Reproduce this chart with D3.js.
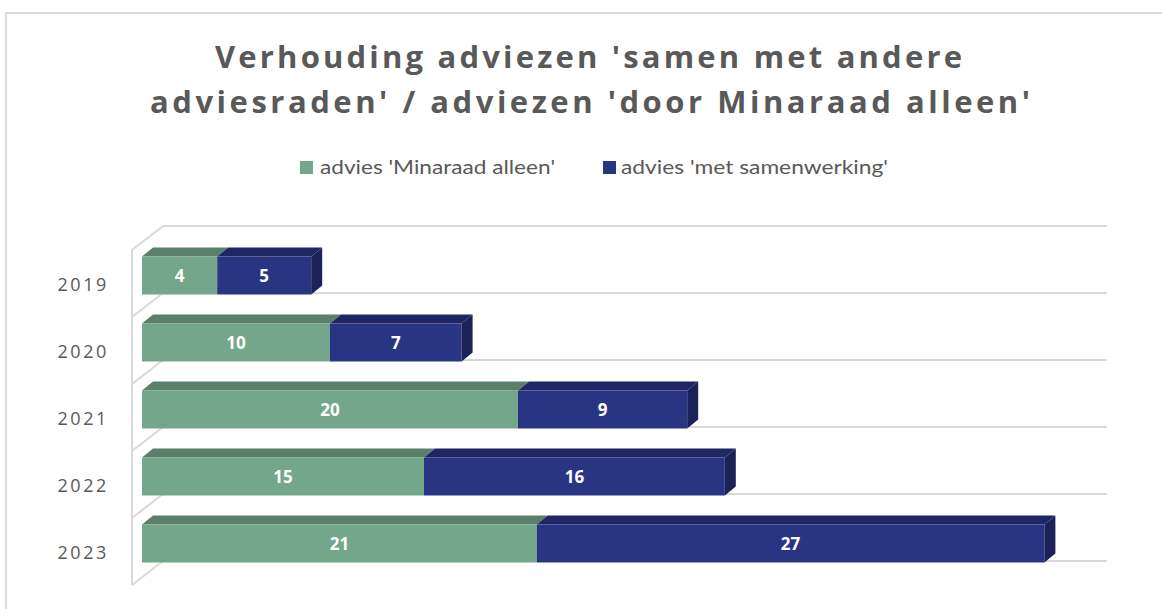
<!DOCTYPE html>
<html><head><meta charset="utf-8">
<script src="https://cdn.jsdelivr.net/npm/d3@7"></script>
<style>body{margin:0;background:#fff}svg{display:block}</style>
</head><body>
<svg id="c" width="1162" height="609"></svg>
<script>
const years = ["2019","2020","2021","2022","2023"];
const aloneValues = [4,10,20,15,21];
const coopValues = [5,7,9,16,27];
const seriesNames = ["advies 'Minaraad alleen'","advies 'met samenwerking'"];
const titleLines = ["Verhouding adviezen 'samen met andere","adviesraden' / adviezen 'door Minaraad alleen'"];
const axisMax = 50.2;

const svg = d3.select("#c");
const grey = "#595959", gridC = "#d9d9d9";
const colors = [
  {front:"#73a68b", top:"#5a806b", side:"#4f7360"},
  {front:"#283583", top:"#1f2663", side:"#1c2258"}
];

// frame
svg.append("path").attr("d","M6,609 L6,13 L1162,13").attr("fill","none").attr("stroke",gridC).attr("stroke-width",2);

// title
const tl = [{x:215,w:747,y:68},{x:150,w:880,y:113}];
titleLines.forEach((t,i)=>{
  svg.append("text").attr("x",tl[i].x).attr("y",tl[i].y).text(t)
    .attr("font-family","Open Sans").attr("font-weight","bold").attr("font-size",31)
    .attr("fill",grey).attr("textLength",tl[i].w).attr("lengthAdjust","spacing");
});

// legend
const lg = [{sx:300,tx:320,tw:235},{sx:603,tx:621,tw:267}];
seriesNames.forEach((n,i)=>{
  svg.append("rect").attr("x",lg[i].sx).attr("y",161).attr("width",13).attr("height",13).attr("fill",colors[i].front);
  svg.append("text").attr("x",lg[i].tx).attr("y",174).text(n)
    .attr("font-family","Lato").attr("font-size",19.5).attr("fill",grey)
    .attr("textLength",lg[i].tw).attr("lengthAdjust","spacingAndGlyphs");
});

// 3D geometry
const depth = {dx:31, dy:-24};
const x = d3.scaleLinear().domain([0,axisMax]).range([132, 132+axisMax*18.8]);
const y = d3.scaleBand().domain(years).range([250,585]);
const step = y.step();
const barH = step*0.567;
const bOff = {dx:10, dy:-8};   // bar front plane offset
const bDep = {dx:11, dy:-9};   // bar depth

// grid: back wall lines and left wall
const gridY = d3.range(years.length+1).map(i=>250+i*step);
const g = svg.append("g").attr("stroke",gridC).attr("stroke-width",2).attr("fill","none");
gridY.forEach(fy=>{
  g.append("line").attr("x1",x(0)+depth.dx).attr("x2",x(axisMax)+depth.dx)
    .attr("y1",fy+depth.dy).attr("y2",fy+depth.dy);
  g.append("line").attr("x1",x(0)).attr("x2",x(0)+depth.dx)
    .attr("y1",fy).attr("y2",fy+depth.dy);
});
g.append("line").attr("x1",x(0)).attr("x2",x(0)).attr("y1",gridY[0]).attr("y2",gridY[gridY.length-1]);

// year labels
years.forEach(yr=>{
  svg.append("text").attr("x",109).attr("y",y(yr)+step/2+7.5).attr("text-anchor","end")
    .text(yr).attr("font-family","Open Sans").attr("font-size",18).attr("fill",grey)
    .attr("letter-spacing","2.6px");
});

// bars
const bars = svg.append("g");
years.forEach((yr,i)=>{
  const vals = [aloneValues[i], coopValues[i]];
  const cy = y(yr)+step/2+bOff.dy;
  const top = cy-barH/2, bot = cy+barH/2;
  let cum = 0;
  vals.forEach((v,s)=>{
    const x0 = x(cum)+bOff.dx, x1 = x(cum+v)+bOff.dx;
    cum += v;
    const c = colors[s];
    bars.append("polygon").attr("points",[[x0,top],[x1,top],[x1+bDep.dx,top+bDep.dy],[x0+bDep.dx,top+bDep.dy]].join(" "))
      .attr("fill",c.top);
    bars.append("rect").attr("x",x0).attr("y",top).attr("width",x1-x0).attr("height",bot-top).attr("fill",c.front);
    if(s===vals.length-1){
      bars.append("polygon").attr("points",[[x1,top],[x1+bDep.dx,top+bDep.dy],[x1+bDep.dx,bot+bDep.dy],[x1,bot]].join(" "))
        .attr("fill",c.side);
    }
    bars.append("text").attr("x",(x0+x1)/2).attr("y",cy+6.5).attr("text-anchor","middle")
      .text(v).attr("font-family","Open Sans").attr("font-weight","bold").attr("font-size",17).attr("fill","#fff");
  });
});
</script>
</body></html>
